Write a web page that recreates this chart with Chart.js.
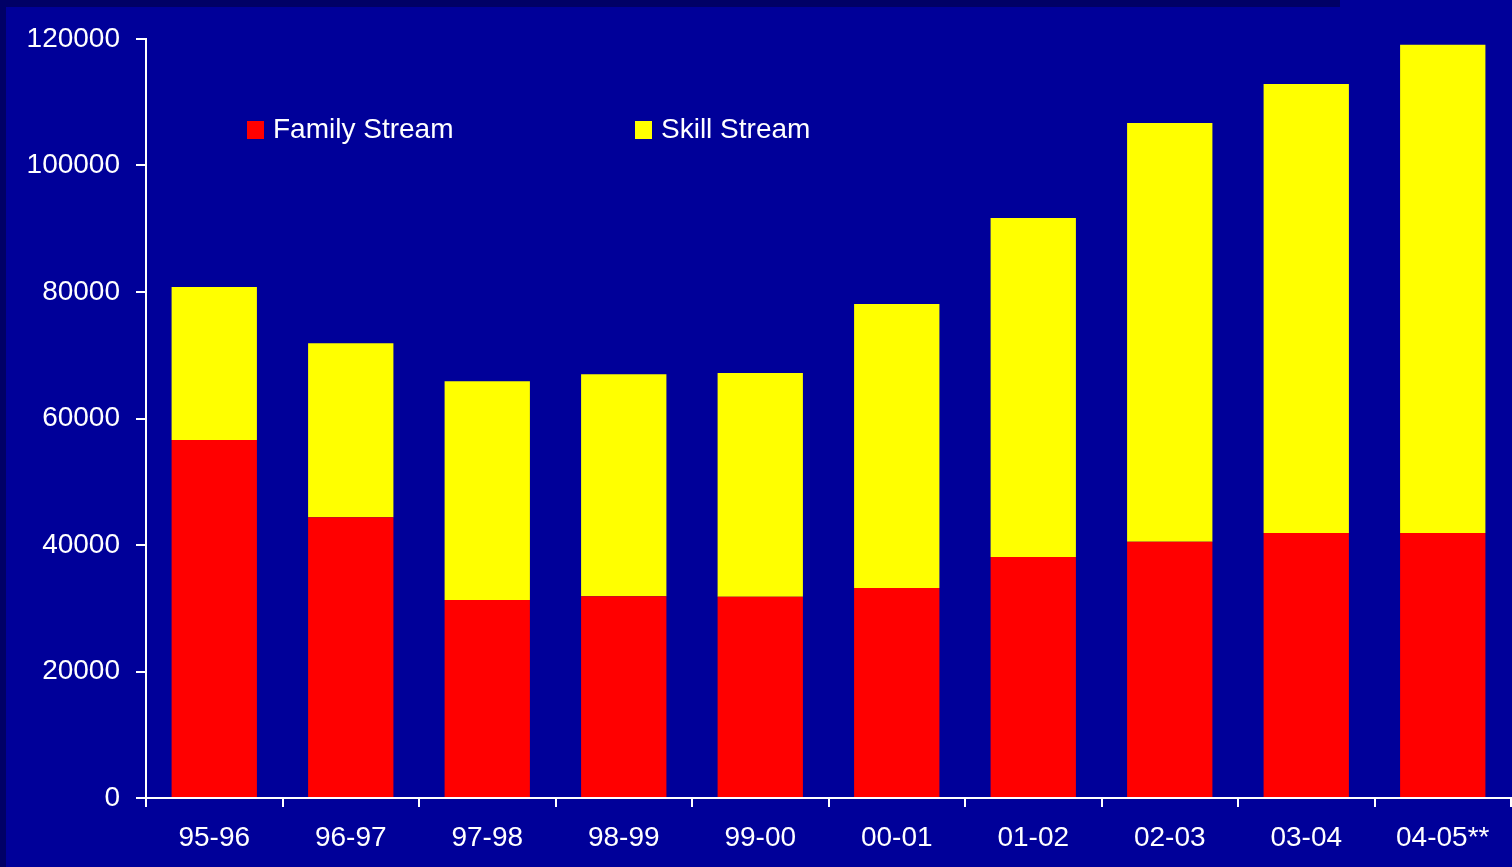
<!DOCTYPE html>
<html>
<head>
<meta charset="utf-8">
<script src="https://cdn.jsdelivr.net/npm/chart.js@4"></script>
<style>
  html, body { margin: 0; padding: 0; background: #000099; overflow: hidden; }
  #wrap { position: relative; width: 1512px; height: 867px; }
  #edgeLeft { position: absolute; left: 0; top: 0; width: 6px; height: 867px; background: #000066; }
  #edgeTop { position: absolute; left: 0; top: 0; width: 1340px; height: 7px; background: #000066; }
  canvas { position: absolute; left: 0; top: 0; }
  .key { position: absolute; top: 114px; font: 28px "Liberation Sans", Arial, sans-serif; color: #fff; white-space: nowrap; line-height: 30px; }
  .key span { display: inline-block; width: 17px; height: 18px; margin-right: 9px; vertical-align: -1px; }
</style>
</head>
<body>
<div id="wrap">
  <div id="edgeLeft"></div>
  <div id="edgeTop"></div>
  <canvas id="chart" width="1512" height="867"></canvas>
  <div class="key" id="key0" style="left:247px"></div>
  <div class="key" id="key1" style="left:635px"></div>
</div>
<script>
const years = ['95-96', '96-97', '97-98', '98-99', '99-00', '00-01', '01-02', '02-03', '03-04', '04-05**'];
const familyStream = [56600, 44400, 31300, 31900, 31800, 33200, 38100, 40500, 41900, 41900];
const skillStream = [24200, 27500, 34600, 35100, 35400, 44900, 53600, 66200, 71000, 77200];
const yTicks = [0, 20000, 40000, 60000, 80000, 100000, 120000];

const font = { family: '"Liberation Sans", Arial, sans-serif', size: 28 };

const chart = new Chart(document.getElementById('chart'), {
  type: 'bar',
  data: {
    labels: years,
    datasets: [
      { label: 'Family Stream', data: familyStream, backgroundColor: '#ff0000' },
      { label: 'Skill Stream', data: skillStream, backgroundColor: '#ffff00' }
    ]
  },
  options: {
    responsive: false,
    animation: false,
    layout: { padding: { top: 39, right: 1, left: 0, bottom: 0 } },
    datasets: { bar: { categoryPercentage: 1, barPercentage: 0.625 } },
    plugins: { legend: { display: false }, tooltip: { enabled: false } },
    scales: {
      x: {
        stacked: true,
        grid: { drawOnChartArea: false, color: '#fff', lineWidth: 2, tickLength: 9 },
        border: { color: '#fff', width: 2 },
        ticks: { color: '#fff', font: font, padding: 14, maxRotation: 0 },
        afterFit: s => { s.height = 69; }
      },
      y: {
        stacked: true,
        min: 0,
        max: 120000,
        afterBuildTicks: s => { s.ticks = yTicks.map(v => ({ value: v })); },
        grid: { drawOnChartArea: false, color: '#fff', lineWidth: 2, tickLength: 10 },
        border: { color: '#fff', width: 2 },
        ticks: { color: '#fff', font: font, padding: 16, callback: v => String(v) },
        afterFit: s => { s.width = 146; }
      }
    }
  }
});

// legend keys built from the datasets
chart.data.datasets.forEach((ds, i) => {
  const el = document.getElementById('key' + i);
  el.innerHTML = '<span style="background:' + ds.backgroundColor + '"></span>' + ds.label;
});
</script>
</body>
</html>
